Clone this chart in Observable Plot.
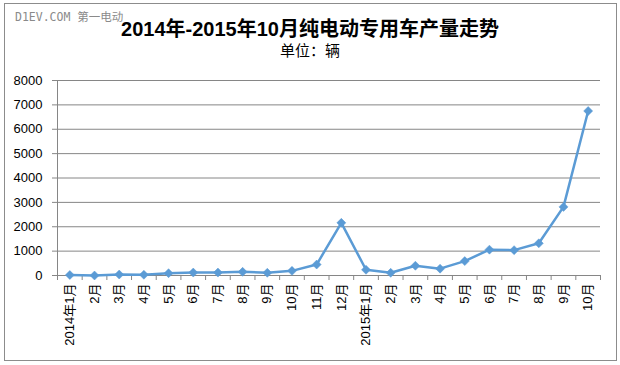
<!DOCTYPE html>
<html><head><meta charset="utf-8">
<script src="https://cdn.jsdelivr.net/npm/d3@7"></script>
<script src="https://cdn.jsdelivr.net/npm/@observablehq/plot@0.6"></script>
<style>
body{margin:0;background:#fff;}
#wrap{position:relative;width:620px;height:365px;overflow:hidden;background:#fff;}
#frame{position:absolute;left:4px;top:3px;width:613px;height:358px;border:1px solid #8c8c8c;box-sizing:border-box;}
#mark{position:absolute;left:15px;top:8px;font:11.5px "DejaVu Sans Mono","Noto Sans CJK SC",monospace;color:#8a8a8a;white-space:nowrap;}
#title{position:absolute;left:0;top:17px;width:620px;text-align:center;font:bold 20px "Liberation Sans","Noto Sans CJK SC",sans-serif;line-height:24px;color:#000;}
#sub{position:absolute;left:0;top:41px;width:620px;text-align:center;font:15px "Noto Sans CJK SC",sans-serif;line-height:18px;color:#000;}
#chart{position:absolute;left:0;top:0;}
</style>
</head><body>
<div id="wrap">
  <div id="frame"></div>
  <div id="mark"></div>
  <div id="title"></div>
  <div id="sub"></div>
  <div id="chart"></div>
</div>
<script>
const watermark = "D1EV.COM 第一电动";
const title = "2014年-2015年10月纯电动专用车产量走势";
const subtitle = "单位：辆";
const months = ["2014年1月","2月","3月","4月","5月","6月","7月","8月","9月","10月","11月","12月",
                "2015年1月","2月","3月","4月","5月","6月","7月","8月","9月","10月"];
const production = [20, 0, 40, 30, 95, 120, 120, 150, 110, 190, 450, 2160,
                    235, 110, 400, 280, 590, 1060, 1040, 1320, 2815, 6750];
const yTicks = [0,1000,2000,3000,4000,5000,6000,7000,8000];

document.getElementById("mark").textContent = watermark;
document.getElementById("title").textContent = title;
document.getElementById("sub").textContent = subtitle;

const data = months.map((m, i) => ({idx: i, label: m, value: production[i]}));
const center = d => d.idx + 0.5;
const diamond = {
  draw(ctx, size) {
    const h = Math.sqrt(size / Math.PI);
    ctx.moveTo(0, -h); ctx.lineTo(h, 0); ctx.lineTo(0, h); ctx.lineTo(-h, 0); ctx.closePath();
  }
};
const grid = "#868686";
const blue = "#5B9BD5";

const chart = Plot.plot({
  width: 620, height: 365,
  marginLeft: 57, marginRight: 20, marginTop: 80, marginBottom: 90,
  style: {background: "transparent", fontFamily: "'Liberation Sans','Noto Sans CJK SC',sans-serif", fontSize: "13px"},
  x: {domain: [0, months.length], axis: null, label: null},
  y: {domain: [0, 8000], axis: null, label: null},
  marks: [
    Plot.gridY(yTicks, {stroke: grid, strokeOpacity: 1, strokeWidth: 1}),
    Plot.axisY(yTicks, {tickSize: 5, tickPadding: 10, stroke: grid, fill: "#000", fontSize: 13,
      tickFormat: d => String(d), label: null}),
    Plot.axisX(d3.range(months.length + 1), {tickSize: 5, tickFormat: () => "", stroke: grid, label: null}),
    Plot.axisX(data.map(center), {tickSize: 0, tickPadding: 8, tickRotate: -90, fill: "#000", fontSize: 13,
      tickFormat: t => months[Math.round(t - 0.5)], label: null}),
    Plot.ruleX([0], {y1: 0, y2: 8000, stroke: grid}),
    Plot.line(data, {x: center, y: "value", stroke: blue, strokeWidth: 2.5}),
    Plot.dot(data, {x: center, y: "value", symbol: diamond, r: 4.5, fill: blue, stroke: blue, strokeWidth: 0.5})
  ]
});
document.getElementById("chart").appendChild(chart);
</script>
</body></html>
